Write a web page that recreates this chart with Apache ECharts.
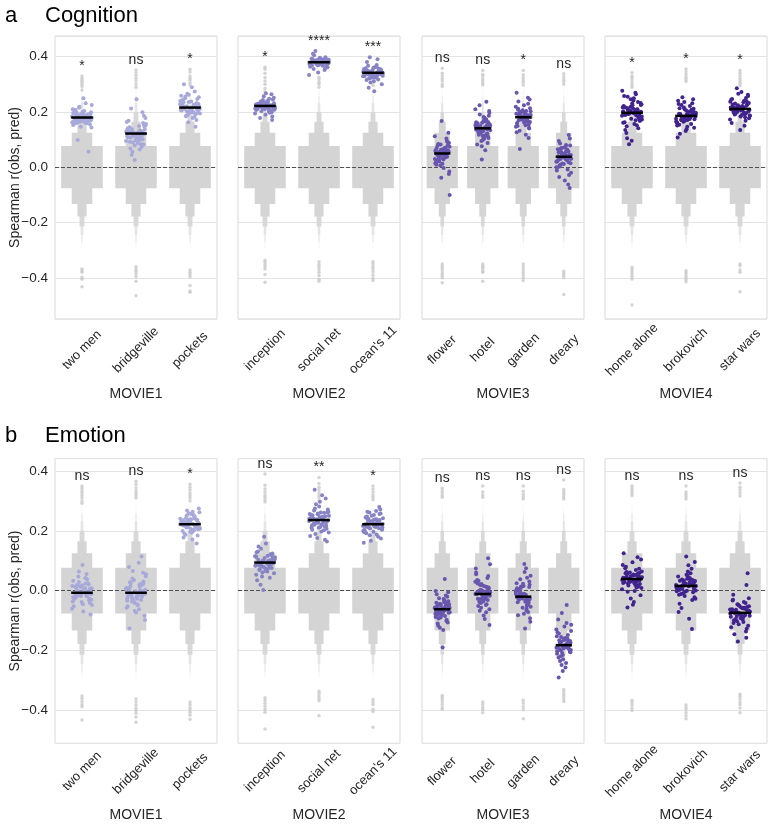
<!DOCTYPE html>
<html><head><meta charset="utf-8">
<script src="https://cdn.jsdelivr.net/npm/echarts@6/dist/echarts.min.js"></script>
<style>html,body{margin:0;padding:0;background:#fff}#c{width:772px;height:824px}</style>
</head><body><div id="c"></div><script>
// ---------------- DATA (values in thousandths of Spearman r) ----------------
const movieNames = ['MOVIE1', 'MOVIE2', 'MOVIE3', 'MOVIE4'];
const movieCategories = [
  ['two men', 'bridgeville', 'pockets'],
  ['inception', 'social net', "ocean's 11"],
  ['flower', 'hotel', 'garden', 'dreary'],
  ['home alone', 'brokovich', 'star wars']
];
const rowTitles = [['a', 'Cognition'], ['b', 'Emotion']];
const yAxisTitle = 'Spearman r(obs, pred)';

// null distribution letter values (lower, upper), innermost first
const nullLetterValues = [[-76, 77], [-133, 125], [-178, 165], [-214, 200], [-245, 232], [-270, 258], [-292, 284]];

// ---- Cognition observed values ----
const cogM1 = [
  [180,172,195,165,188,210,176,158,201,183,169,192,147,225,178,186,161,199,174,207,181,153,190,168,215,179,163,197,185,171,232,176,144,189,204,166,182,193,159,177,250,187,170,198,162,184,175,219,156,191,173,205,167,183,99,179,196,164,186,56],
  [122,98,145,110,135,87,160,118,73,129,105,152,131,64,114,178,92,126,140,101,119,83,168,124,56,137,108,149,95,130,115,186,79,127,143,103,121,45,157,112,134,90,199,117,68,147,125,106,164,99,128,246,82,138,116,26,153,109,123,213],
  [216,205,232,198,224,241,210,187,253,219,201,228,193,266,213,236,182,222,208,247,217,195,259,226,203,171,238,212,229,190,274,207,220,244,199,215,185,231,262,211,223,178,250,218,204,235,196,227,290,209,221,147,240,214,200,256,225,163,218,300]
];
const cogM2 = [
  [222,215,231,208,226,240,218,199,234,221,211,228,203,252,219,236,195,224,213,245,217,206,229,220,184,238,214,227,201,233,264,216,223,209,243,197,225,212,230,190,219,235,205,257,221,214,227,178,232,210,224,248,207,218,171,237,220,212,268,226],
  [380,374,388,369,383,392,377,365,386,381,371,390,378,398,375,384,362,379,387,373,382,368,394,376,385,358,379,389,372,383,405,377,370,386,381,364,391,375,384,352,379,396,373,382,367,388,376,411,380,370,385,343,378,393,374,421,381,356,387,334],
  [342,335,351,328,346,360,338,321,355,341,331,348,325,367,339,353,316,344,333,362,340,322,357,345,311,349,336,370,327,343,381,337,330,352,344,318,358,334,347,300,339,364,329,345,307,354,336,391,341,326,346,288,340,356,332,398,343,275,350,337]
];
const cogM3 = [
  [50,38,66,27,57,82,44,15,71,52,33,61,21,95,47,74,9,55,40,88,49,24,68,58,-3,78,42,104,30,53,125,46,35,63,-15,79,51,18,59,167,43,70,28,56,-24,84,37,112,48,6,54,-38,65,45,13,91,31,-100,62,41],
  [141,128,157,115,148,172,136,103,164,143,121,153,109,186,138,166,95,146,131,179,140,112,161,150,82,169,133,197,118,145,210,137,125,155,76,174,142,99,158,224,134,163,116,149,88,182,127,204,139,237,147,62,159,130,106,191,122,28,152,144],
  [181,170,195,158,188,206,176,149,200,183,164,192,152,219,178,202,140,185,168,212,180,155,198,189,127,204,173,230,161,186,245,177,166,194,118,208,182,143,197,252,174,203,160,187,132,214,171,238,179,270,184,106,199,169,147,224,163,66,191,182],
  [38,25,54,12,45,67,31,-2,60,41,18,50,6,79,35,63,-12,43,27,72,37,10,57,47,-20,65,29,86,15,42,95,33,21,52,-28,70,39,0,48,104,30,61,14,44,-35,74,24,117,36,-8,40,-48,56,32,3,81,20,-62,49,-75]
];
const cogM4 = [
  [197,183,214,170,205,228,191,157,222,199,176,210,163,242,193,225,148,202,186,236,196,167,219,207,135,231,188,255,173,203,264,194,180,212,124,233,198,152,217,270,189,224,172,206,141,246,184,258,195,105,201,96,216,187,161,250,178,83,209,277],
  [186,176,199,165,191,210,181,154,205,188,170,196,160,222,183,207,147,193,174,216,185,163,202,194,138,212,179,232,168,190,241,182,172,198,131,214,187,151,200,246,178,208,166,192,143,225,175,236,184,121,189,108,203,177,157,229,171,253,195,187],
  [211,202,224,192,216,235,207,184,229,213,196,220,187,247,209,231,177,218,200,241,210,189,226,219,168,237,205,258,194,215,266,208,198,222,160,239,212,181,227,272,204,233,191,217,173,251,201,262,214,150,218,135,228,206,186,244,197,286,223,212]
];
const cogMedians = [[180, 122, 216], [222, 380, 342], [50, 141, 181, 38], [197, 186, 211]];
const cogSig = [['*', 'ns', '*'], ['*', '****', '***'], ['ns', 'ns', '*', 'ns'], ['*', '*', '*']];
const cogHigh = [
  [[280,292,300,308,315,322,330], [290,300,312,322,332,342,352], [298,305,315,322,330,345,355]],
  [[272,285,300,312,325,340,355,362], [290,300,308,318,326], [296,305,314,322]],
  [[292,300,312,320,330,340,358], [298,305,312,320,330,336,350], [298,308,316,325,335,350], [300,310,318,328,338]],
  [[290,298,306,316,324,330,342], [310,318,326,336,346,356], [296,304,312,320,330,340,350]]
];
const cogLow = [
  [[-368,-374,-380,-398,-405,-432], [-360,-368,-376,-384,-395,-412,-465], [-372,-380,-388,-396,-428,-448,-452]],
  [[-336,-344,-352,-360,-368,-388,-416], [-342,-352,-360,-370,-380,-392,-405,-412], [-342,-350,-360,-368,-378,-390,-402,-410]],
  [[-350,-358,-366,-374,-384,-392,-400,-418], [-350,-356,-362,-368,-376,-380,-412], [-350,-360,-370,-380,-390,-400,-410], [-376,-384,-392,-400,-460]],
  [[-362,-370,-378,-386,-395,-404,-498], [-374,-382,-390,-398,-406,-414], [-350,-356,-372,-380,-450]]
];

// ---- Emotion observed values ----
const emoM1 = [
  [-7,-18,8,-28,1,19,-12,-38,14,-4,-22,5,-33,29,-9,16,-45,3,-15,24,-6,-30,11,2,-52,21,-14,38,-25,-1,47,-10,-20,9,-60,25,-5,-41,12,56,-16,18,-27,0,-48,33,-11,64,-8,-70,-3,-80,15,-19,-36,42,-24,86,6,-13],
  [-7,-24,12,-38,3,28,-15,-52,21,-3,-31,8,-45,41,-11,24,-62,5,-20,35,-5,-41,17,2,-73,31,-18,55,-34,0,66,-13,-27,14,-84,36,-8,-57,19,79,-22,26,-36,-1,-68,48,-16,93,-10,-98,-2,-126,22,-26,-49,60,-30,114,9,-17],
  [222,214,233,205,227,241,218,197,237,224,209,230,201,251,220,239,190,226,212,246,221,203,235,228,184,243,216,259,207,225,264,217,210,231,178,248,223,194,234,268,213,240,206,226,187,253,219,262,221,171,224,158,238,215,199,256,211,275,229,223]
];
const emoM2 = [
  [94,84,106,72,99,115,89,61,111,96,77,103,66,124,92,112,53,98,81,119,93,69,108,101,43,114,86,131,74,97,140,90,79,104,35,117,95,58,109,148,87,113,71,100,47,122,83,158,92,20,97,2,107,85,64,128,76,180,102,91],
  [236,225,249,213,241,262,231,202,256,238,219,246,207,275,234,258,194,241,222,268,235,210,252,243,183,261,228,289,215,240,297,232,220,247,176,264,237,198,253,308,227,260,211,244,189,271,224,319,233,170,239,164,255,229,204,281,217,337,250,236],
  [222,213,234,204,227,243,218,195,238,224,208,231,199,253,220,240,188,226,211,248,221,201,236,229,180,245,215,261,206,225,266,216,209,232,174,250,223,192,235,271,212,242,203,227,185,256,219,264,222,167,224,160,239,214,197,258,210,280,230,223]
];
const emoM3 = [
  [-62,-71,-50,-82,-58,-40,-66,-93,-45,-60,-77,-53,-88,-28,-64,-44,-101,-56,-73,-35,-61,-85,-47,-55,-110,-38,-69,-20,-79,-57,-12,-63,-75,-51,-117,-33,-59,-97,-48,-5,-68,-42,-81,-58,-106,-25,-72,-1,-63,-124,-55,-131,-46,-74,-90,-16,-78,39,-52,-190],
  [-11,-25,6,-38,-3,22,-17,-51,15,-8,-31,1,-45,36,-14,19,-62,-1,-21,30,-10,-41,11,-4,-72,26,-19,49,-34,-6,61,-15,-28,8,-83,33,-9,-57,13,74,-23,24,-36,-2,-67,42,-13,88,-12,-95,-7,-115,17,-27,-48,55,-30,108,3,-18],
  [-20,-33,-4,-47,-12,12,-26,-60,6,-17,-40,-8,-54,25,-23,9,-71,-10,-30,20,-19,-50,1,-14,-82,16,-28,38,-43,-15,50,-24,-37,-2,-92,23,-18,-66,4,62,-32,14,-45,-11,-77,31,-22,75,-21,-104,-16,-126,8,-36,-57,43,-39,89,-6,-27],
  [-182,-195,-168,-208,-176,-152,-189,-223,-160,-180,-200,-171,-215,-135,-185,-158,-235,-174,-193,-143,-181,-211,-163,-172,-248,-148,-191,-120,-204,-177,-108,-186,-198,-166,-257,-139,-179,-229,-161,-96,-188,-155,-206,-175,-242,-130,-192,-75,-183,-268,-178,-290,-165,-196,-219,-114,-202,-48,-170,-185]
];
const emoM4 = [
  [39,29,51,17,44,62,34,5,57,41,22,48,11,75,37,59,-4,45,26,69,38,14,54,46,-15,61,31,86,19,42,95,35,24,50,-26,64,40,-1,55,104,32,58,20,43,-38,73,28,112,36,-47,42,-56,52,30,9,80,25,125,47,38],
  [16,4,29,-9,21,40,11,-22,34,18,-2,25,-14,53,14,37,-31,23,1,47,15,-11,32,24,-44,39,8,64,-5,19,73,12,0,28,-58,42,17,-27,33,85,9,36,-4,20,-71,51,6,96,13,-94,19,-128,30,7,-18,58,2,114,26,15],
  [-74,-84,-62,-96,-70,-52,-79,-108,-57,-72,-90,-65,-102,-41,-76,-55,-117,-68,-86,-47,-73,-99,-59,-67,-127,-50,-81,-33,-93,-69,-25,-75,-88,-63,-136,-45,-71,-112,-60,-14,-80,-54,-95,-70,-122,-38,-85,19,-77,-146,-66,-170,-58,-87,-105,-30,-91,58,-64,-157]
];
const emoMedians = [[-7, -7, 222], [94, 236, 222], [-62, -11, -20, -182], [39, 16, -74]];
const emoSig = [['ns', 'ns', '*'], ['ns', '**', '*'], ['ns', 'ns', 'ns', 'ns'], ['ns', 'ns', 'ns']];
const emoHigh = [
  [[292,300,310,318,326,334,342,350], [310,318,326,334,344,356,366], [300,310,318,326,336,346,356]],
  [[296,304,312,320,330,340,352,390], [300,310,318,326,336,346,358,378], [304,312,320,330,340,350]],
  [[312,318,326,334,342], [312,320,330,350], [306,314,322,332,350], [306,314,322,330,338,370]],
  [[318,326,334,342,350], [306,314,322,330,350], [316,326,336,346,360]]
];
const emoLow = [
  [[-352,-360,-370,-380,-388,-432], [-362,-372,-382,-392,-400,-410,-422,-440], [-372,-380,-390,-398,-406,-416,-430]],
  [[-358,-366,-376,-386,-396,-406,-462], [-336,-344,-352,-360,-368,-418], [-364,-372,-380,-396,-404,-456]],
  [[-350,-356,-364,-372,-380,-390,-396], [-372,-380,-390,-398,-408], [-366,-376,-388,-398,-428], [-330,-338,-346,-354,-362,-370]],
  [[-366,-374,-382,-392,-400], [-382,-390,-398,-408,-418,-428], [-346,-354,-362,-372,-380,-392,-408]]
];

// fixed strip-plot jitter pattern (fraction of max jitter)
const jitter = [0.12,-0.55,0.83,-0.21,0.47,-0.9,0.33,-0.68,0.05,0.74,-0.39,0.61,-0.12,0.95,-0.77,0.26,-0.48,0.88,-0.03,-0.63,0.41,-0.86,0.18,0.69,-0.29,0.54,-0.95,0.09,0.79,-0.44,0.36,-0.17,0.92,-0.59,0.23,-0.81,0.65,-0.08,0.5,-0.72,0.14,-0.35,0.86,-0.52,0.3,-0.97,0.58,-0.25,0.77,-0.13,0.44,-0.66,0.02,0.71,-0.42,0.97,-0.86,0.38,-0.31,0.63];

// ---------------- STYLE / LAYOUT ----------------
const FONT = "'Liberation Sans', Arial, Helvetica, sans-serif";
const TXT = '#262626';
const movieColors = ['#a7a9da', '#8784c6', '#6856ae', '#41238f'];
const levelWidths = [0.77, 0.38, 0.17, 0.09, 0.05, 0.03, 0.018];
const levelColors = ['#d4d4d4', '#d4d4d4', '#d5d5d5', '#d8d8d8', '#e5e5e5', '#eeeeee', '#f5f5f5'];
const panelLefts = [55, 238, 422, 605];
const panelWidth = 162;
const rowLayout = [
  { top: 36, height: 283, min: -0.549, max: 0.475, labelMargin: 31, nameGap: 68, titleTop: 5 },
  { top: 458.7, height: 284.6, min: -0.51, max: 0.441, labelMargin: 28, nameGap: 65, titleTop: 425 }
];
const JW = 0.19;

const rowsSrc = [
  { points: [cogM1, cogM2, cogM3, cogM4], medians: cogMedians, sig: cogSig, high: cogHigh, low: cogLow },
  { points: [emoM1, emoM2, emoM3, emoM4], medians: emoMedians, sig: emoSig, high: emoHigh, low: emoLow }
];

function fmtTick(v) {
  const s = (Math.abs(v) < 1e-9 ? 0 : v).toFixed(1);
  return s.replace('-', '\u2212');
}

function boxRender(params, api) {
  const c = api.value(0), lo = api.value(1), hi = api.value(2), k = api.value(3);
  const band = api.size([1, 0])[0];
  const w = levelWidths[k] * band;
  const p1 = api.coord([c, hi]);
  const p2 = api.coord([c, lo]);
  return { type: 'rect', shape: { x: p1[0] - w / 2, y: p1[1], width: w, height: p2[1] - p1[1] }, style: { fill: levelColors[k] } };
}
function medRender(params, api) {
  const c = api.value(0), v = api.value(1);
  const a = api.coord([c - 0.2, v]);
  const b = api.coord([c + 0.2, v]);
  return { type: 'line', shape: { x1: a[0], y1: a[1], x2: b[0], y2: b[1] }, style: { stroke: '#000', lineWidth: 2.5 } };
}

const grid = [], xAxis = [], yAxis = [], series = [];
rowsSrc.forEach((R, r) => {
  const L = rowLayout[r];
  movieCategories.forEach((cats, m) => {
    const g = r * 4 + m;
    const n = cats.length;
    grid.push({ left: panelLefts[m], top: L.top, width: panelWidth, height: L.height, show: true, borderColor: '#d9d9d9', borderWidth: 1, backgroundColor: '#fff' });
    xAxis.push({
      type: 'category', gridIndex: g, data: cats, position: 'bottom',
      axisLine: { show: false }, axisTick: { show: false }, splitLine: { show: false },
      axisLabel: { interval: 0, rotate: 45, align: 'center', verticalAlign: 'middle', margin: L.labelMargin, fontSize: 13, color: TXT, fontFamily: FONT },
      name: movieNames[m], nameLocation: 'middle', nameGap: L.nameGap, nameMoveOverlap: false,
      nameTextStyle: { fontSize: 14, color: TXT, fontFamily: FONT, verticalAlign: 'top' }
    });
    xAxis.push({ type: 'value', gridIndex: g, min: -0.5, max: n - 0.5, show: false });
    yAxis.push({
      type: 'value', gridIndex: g, min: L.min, max: L.max, splitNumber: 5,
      axisLine: { show: false }, axisTick: { show: false },
      splitLine: { show: true, lineStyle: { color: '#e4e4e4', width: 1 } },
      axisLabel: { show: m === 0, showMinLabel: false, showMaxLabel: false, formatter: fmtTick, fontSize: 13.5, color: TXT, fontFamily: FONT, margin: 7 },
      name: m === 0 ? yAxisTitle : '', nameLocation: 'middle', nameGap: 33, nameMoveOverlap: false,
      nameTextStyle: { fontSize: 14, color: TXT, fontFamily: FONT }
    });
    const xv = 2 * g + 1;
    // boxen (null distribution)
    const boxData = [];
    cats.forEach((_, c) => {
      for (let k = nullLetterValues.length - 1; k >= 0; k--) {
        boxData.push([c, nullLetterValues[k][0] / 1000, nullLetterValues[k][1] / 1000, k]);
      }
    });
    series.push({
      type: 'custom', xAxisIndex: xv, yAxisIndex: g, data: boxData, renderItem: boxRender,
      encode: { x: 0, y: [1, 2] }, z: 1, silent: true, clip: false,
      markLine: { silent: true, symbol: 'none', label: { show: false }, z: 2,
        lineStyle: { type: [4, 2], color: '#505050', width: 1 }, data: [{ yAxis: 0 }] }
    });
    // null outliers
    const outData = [];
    cats.forEach((_, c) => {
      R.high[m][c].forEach(v => outData.push([c, v / 1000]));
      R.low[m][c].forEach(v => outData.push([c, v / 1000]));
    });
    series.push({ type: 'scatter', xAxisIndex: xv, yAxisIndex: g, data: outData, symbolSize: 3.5, itemStyle: { color: '#c9c9c9' }, z: 3, silent: true });
    // observed points
    const ptData = [];
    cats.forEach((_, c) => {
      R.points[m][c].forEach((v, i) => {
        const j = jitter[(i + c * 17 + m * 29 + r * 11) % jitter.length];
        ptData.push([c + j * JW, v / 1000]);
      });
    });
    series.push({ type: 'scatter', xAxisIndex: xv, yAxisIndex: g, data: ptData, symbolSize: 4, itemStyle: { color: movieColors[m], opacity: 1 }, z: 4, silent: true });
    // medians
    series.push({ type: 'custom', xAxisIndex: xv, yAxisIndex: g, data: cats.map((_, c) => [c, R.medians[m][c] / 1000]), renderItem: medRender, z: 5, silent: true, clip: false });
    // significance labels
    const sigs = R.sig[m];
    const sigData = cats.map((_, c) => {
      const mx = Math.max(Math.max(...R.points[m][c]), Math.max(...R.high[m][c]));
      return [c, mx / 1000];
    });
    series.push({
      type: 'custom', xAxisIndex: xv, yAxisIndex: g, data: sigData, z: 6, silent: true, clip: false,
      renderItem: (params, api) => {
        const p = api.coord([api.value(0), api.value(1)]);
        return { type: 'text', x: p[0], y: p[1] - 3, style: { text: sigs[params.dataIndex], fontSize: 14, fontFamily: FONT, fill: TXT, align: 'center', verticalAlign: 'bottom' } };
      }
    });
  });
});

const graphic = [];
rowTitles.forEach((t, r) => {
  graphic.push({ type: 'text', left: 5, top: rowLayout[r].titleTop, style: { text: t[0], fontSize: 22, fontFamily: FONT, fill: '#000' } });
  graphic.push({ type: 'text', left: 45, top: rowLayout[r].titleTop, style: { text: t[1], fontSize: 22, fontFamily: FONT, fill: '#000' } });
});

const chart = echarts.init(document.getElementById('c'), null, { renderer: 'canvas' });
chart.setOption({ animation: false, backgroundColor: '#fff', grid, xAxis, yAxis, series, graphic });
</script></body></html>
